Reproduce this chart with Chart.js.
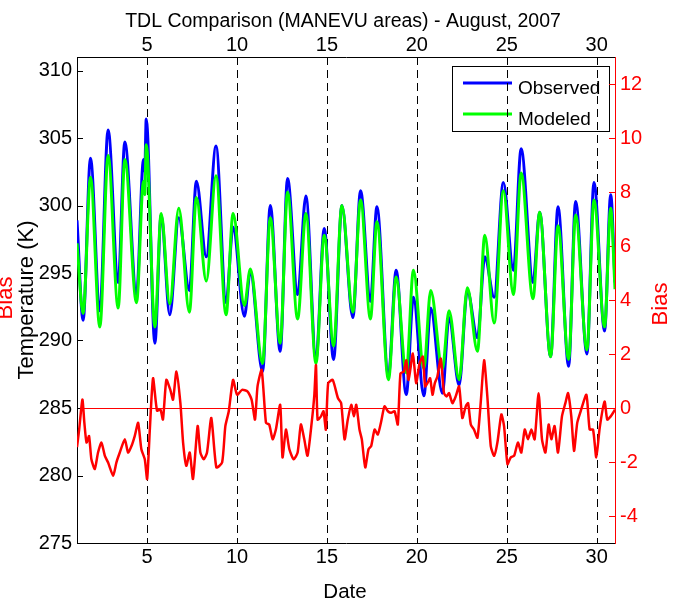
<!DOCTYPE html>
<html>
<head>
<meta charset="utf-8">
<script src="https://cdn.jsdelivr.net/npm/chart.js@4.4.0/dist/chart.umd.min.js"></script>
<style>
    html, body { margin: 0; padding: 0; background: #fff; }
    #grafico { display: block; }
</style>
</head>
<body>
<canvas id="grafico" width="673" height="606"></canvas>
<script>
// temperature series: times (day of August) of troughs / peaks
const tempDays = [1.10, 1.44, 1.85, 2.37, 2.83, 3.39, 3.76, 4.41, 4.80, 4.87, 4.95, 5.43, 5.78, 6.26, 6.76,
    7.35, 7.74, 8.29, 8.83, 9.39, 9.78, 10.41, 10.74, 11.42, 11.85, 12.40, 12.81, 13.37, 13.83, 14.39,
    14.85, 15.37, 15.83, 16.44, 16.87, 17.42, 17.78, 18.42, 18.85, 19.41, 19.81, 20.39, 20.77, 21.42,
    21.79, 22.35, 22.81, 23.37, 23.78, 24.30, 24.81, 25.37, 25.80, 26.46, 26.83, 27.44, 27.85, 28.44,
    28.83, 29.46, 29.85, 30.44, 30.78, 31.02];
const observed = [298.9, 291.5, 303.5, 292.2, 305.6, 294.3, 304.7, 293.4, 303.4, 302.5, 306.4, 289.8, 299.3, 291.9, 299.1,
    293.7, 301.8, 296.2, 304.4, 292.8, 298.4, 291.8, 295.1, 287.7, 300.0, 289.2, 302.0, 293.4, 300.7, 288.6,
    298.3, 288.6, 300.0, 291.7, 301.1, 292.9, 299.9, 287.4, 295.2, 286.0, 293.2, 285.9, 292.4, 286.1,
    291.7, 286.7, 293.7, 290.2, 296.2, 293.2, 301.7, 295.2, 304.2, 294.3, 299.5, 288.8, 299.9, 288.1,
    300.3, 289.0, 301.7, 290.7, 300.8, 294.3];
const modeled = [297.2, 292.0, 302.1, 291.0, 303.7, 292.4, 303.4, 292.8, 301.8, 300.8, 304.5, 291.0, 299.4, 292.7, 299.8,
    292.1, 300.6, 294.4, 302.2, 291.9, 299.4, 292.6, 295.3, 288.3, 299.1, 289.8, 301.0, 291.6, 299.4, 288.3,
    297.8, 289.6, 300.0, 292.1, 300.4, 291.6, 298.8, 287.1, 294.7, 287.6, 295.2, 287.9, 293.7, 287.9,
    292.2, 287.1, 293.9, 289.2, 297.8, 291.3, 301.1, 293.4, 302.4, 293.1, 299.5, 288.8, 298.5, 288.6,
    299.3, 289.3, 300.4, 291.0, 299.8, 293.8];

// bias series (right axis)
const biasDays = [1.10, 1.22, 1.40, 1.51, 1.63, 1.77, 1.90, 2.09, 2.27, 2.46, 2.65, 2.83, 3.11, 3.29, 3.48,
    3.76, 3.94, 4.13, 4.31, 4.50, 4.68, 4.87, 5.00, 5.15, 5.33, 5.55, 5.74, 5.88, 6.07, 6.29, 6.44, 6.63,
    6.85, 7.00, 7.18, 7.37, 7.55, 7.81, 7.96, 8.15, 8.33, 8.57, 8.85, 9.17, 9.35, 9.54, 9.78, 10.00,
    10.28, 10.59, 10.81, 11.00, 11.14, 11.37, 11.61, 11.79, 11.98, 12.16, 12.40, 12.53, 12.72, 12.91,
    13.15, 13.37, 13.55, 13.74, 13.92, 14.15, 14.30, 14.39, 14.48, 14.67, 14.81, 14.94, 15.07, 15.32,
    15.61, 15.79, 15.98, 16.16, 16.35, 16.50, 16.63, 16.81, 16.94, 17.13, 17.31, 17.46, 17.65, 17.83,
    18.02, 18.20, 18.39, 18.57, 18.76, 18.94, 19.09, 19.28, 19.41, 19.54, 19.78, 19.96, 20.15, 20.33,
    20.46, 20.59, 20.74, 20.87, 21.00, 21.14, 21.33, 21.51, 21.66, 21.79, 21.98, 22.16, 22.35, 22.53,
    22.72, 22.85, 23.00, 23.18, 23.37, 23.55, 23.74, 23.92, 24.11, 24.30, 24.48, 24.70, 24.85, 25.04,
    25.22, 25.41, 25.62, 25.81, 26.00, 26.18, 26.37, 26.55, 26.77, 26.96, 27.15, 27.33, 27.48, 27.66,
    27.85, 28.07, 28.26, 28.41, 28.59, 28.74, 28.92, 29.11, 29.43, 29.61, 29.80, 29.98, 30.17, 30.44,
    30.59, 30.78, 31.02];
const bias = [-1.45, -0.80, 0.31, -0.55, -1.28, -1.04, -1.90, -2.26, -1.65, -1.28, -1.77, -2.02, -2.51, -2.02, -1.65,
    -1.16, -1.65, -1.41, -1.04, -0.55, -1.53, -1.90, -2.63, -0.80, 1.10, -0.10, -0.06, -0.43, 1.04, 0.67, 0.31, 1.35,
    0.18, -1.28, -2.14, -1.65, -2.63, -0.67, -1.65, -1.90, -1.65, -0.37, -2.20, -2.02, -0.67, -0.12, 1.04, 0.49,
    0.67, 0.61, 0.31, -0.43, 0.80, 1.41, -0.55, -0.61, -1.16, -0.80, 0.12, -1.83, -0.80, -1.53,
    -1.90, -1.65, -0.61, -1.16, -1.77, -0.55, 0.49, 1.59, -0.43, -0.31, -0.12, -0.80, 0.92, 1.04,
    0.37, 0.18, -1.16, -0.43, 0.12, -0.31, 0.12, -0.80, -1.16, -2.20, -1.53, -1.41, -0.80, -0.98,
    -0.49, 0.06, -0.12, -0.18, -0.12, -0.61, 1.28, 1.35, 1.77, 1.04, 2.02, 0.92, 1.65, 1.90,
    0.80, 0.92, 1.10, 0.49, 0.92, 1.16, 1.83, 0.55, 0.43, 0.55, 0.18, 0.43, 0.80, -0.37,
    0.06, 0.18, -0.61, -0.80, -1.10, 0.18, 1.77, 0.43, -1.41, -1.77, -1.28, -0.24, -0.67, -2.08,
    -1.83, -1.77, -1.28, -1.65, -0.80, -1.16, -0.80, -1.16, 0.55, -1.16, -1.65, -0.61, -1.16, -0.67,
    -1.65, -0.31, 0.18, 0.55, -0.31, -1.59, -0.55, -0.12, 0.49, -0.80, -0.80, -1.83, -0.73, 0.24,
    -0.43, -0.31, -0.06];

// tick labels
const dayTicks = [5, 10, 15, 20, 25, 30];
const tempTicks = [275, 280, 285, 290, 295, 300, 305, 310];
const biasTicks = [-4, -2, 0, 2, 4, 6, 8, 10, 12];

const FONT = "'Liberation Sans', Arial, Helvetica, sans-serif";

function pontos(xs, ys) {
    return xs.map((x, i) => ({ x: x, y: ys[i] }));
}

// fixed-size boxes so the plot area matches the original figure
function fixWidth(w) { return function (scale) { scale.width = w; }; }
function fixHeight(h) { return function (scale) { scale.height = h; }; }
function setTicks(list) { return function (scale) { scale.ticks = list.map(v => ({ value: v })); }; }

// draws what MATLAB draws by hand: inward ticks, dashed day lines, legend, labels
const matlabLook = {
    id: 'matlabLook',
    beforeDatasetsDraw(chart) {
        const { ctx, chartArea: a, scales } = chart;
        ctx.save();

        // zero bias line
        const y0 = Math.round(scales.y2.getPixelForValue(0)) + 0.5;
        ctx.strokeStyle = '#ff0000';
        ctx.lineWidth = 1;
        ctx.beginPath();
        ctx.moveTo(a.left, y0);
        ctx.lineTo(a.right, y0);
        ctx.stroke();

        // legend box
        ctx.strokeStyle = '#000';
        ctx.lineWidth = 1;
        ctx.strokeRect(452.5, 66.5, 157, 65);
        ['Observed', 'Modeled'].forEach((name, i) => {
            const ds = chart.data.datasets.find(d => d.label === name);
            const ly = i === 0 ? 83 : 114;
            ctx.strokeStyle = ds.borderColor;
            ctx.lineWidth = 3;
            ctx.beginPath();
            ctx.moveTo(463, ly);
            ctx.lineTo(512, ly);
            ctx.stroke();
            ctx.fillStyle = '#000';
            ctx.font = '19px ' + FONT;
            ctx.textAlign = 'left';
            ctx.textBaseline = 'alphabetic';
            ctx.fillText(ds.label, 518, ly + 11);
        });

        // dashed vertical lines at the day ticks
        ctx.strokeStyle = '#000';
        ctx.lineWidth = 1;
        ctx.setLineDash([8, 5]);
        dayTicks.forEach(d => {
            const x = Math.round(scales.x.getPixelForValue(d)) + 0.5;
            ctx.beginPath();
            ctx.moveTo(x, a.top);
            ctx.lineTo(x, a.bottom);
            ctx.stroke();
        });
        ctx.setLineDash([]);

        // inward tick marks
        tempTicks.forEach(v => {
            const y = Math.round(scales.y.getPixelForValue(v)) + 0.5;
            ctx.beginPath();
            ctx.moveTo(a.left, y);
            ctx.lineTo(a.left + 6, y);
            ctx.stroke();
        });
        ctx.strokeStyle = '#ff0000';
        biasTicks.forEach(v => {
            const y = Math.round(scales.y2.getPixelForValue(v)) + 0.5;
            ctx.beginPath();
            ctx.moveTo(a.right - 6, y);
            ctx.lineTo(a.right, y);
            ctx.stroke();
        });
        ctx.restore();
    },
    afterDraw(chart) {
        const { ctx } = chart;
        ctx.save();
        ctx.fillStyle = '#000';
        ctx.textAlign = 'center';
        ctx.textBaseline = 'alphabetic';

        ctx.font = '19.5px ' + FONT;
        ctx.fillText('TDL Comparison (MANEVU areas) - August, 2007', 343, 27);

        ctx.font = '20.5px ' + FONT;
        ctx.fillText('Date', 345, 598);

        // rotated axis labels
        ctx.font = '22px ' + FONT;
        ctx.save();
        ctx.translate(33, 300);
        ctx.rotate(-Math.PI / 2);
        ctx.fillText('Temperature (K)', 0, 0);
        ctx.restore();

        ctx.fillStyle = '#ff0000';
        ctx.save();
        ctx.translate(12, 298);
        ctx.rotate(-Math.PI / 2);
        ctx.fillText('Bias', 0, 0);
        ctx.restore();

        ctx.save();
        ctx.translate(667, 304);
        ctx.rotate(-Math.PI / 2);
        ctx.fillText('Bias', 0, 0);
        ctx.restore();

        ctx.restore();
    }
};

Chart.defaults.font.family = FONT;
Chart.defaults.color = '#000';

const noGrid = { display: false, drawTicks: false, tickLength: 0 };

const ctx = document.getElementById('grafico').getContext('2d');
window.grafico = new Chart(ctx, {
    type: 'line',
    data: {
        datasets: [
            {
                label: 'Observed',
                data: pontos(tempDays, observed),
                borderColor: '#0000ff',
                borderWidth: 3,
                pointRadius: 0,
                cubicInterpolationMode: 'monotone',
                order: 2,
                yAxisID: 'y',
                xAxisID: 'x'
            },
            {
                label: 'Modeled',
                data: pontos(tempDays, modeled),
                borderColor: '#00ff00',
                borderWidth: 3,
                pointRadius: 0,
                cubicInterpolationMode: 'monotone',
                order: 1,
                yAxisID: 'y',
                xAxisID: 'x'
            },
            {
                label: 'Bias',
                data: pontos(biasDays, bias),
                borderColor: '#ff0000',
                borderWidth: 2.5,
                pointRadius: 0,
                tension: 0.2,
                order: 0,
                yAxisID: 'y2',
                xAxisID: 'x'
            }
        ]
    },
    options: {
        responsive: false,
        animation: false,
        devicePixelRatio: 1,
        layout: { padding: 0 },
        plugins: {
            legend: { display: false },
            tooltip: { enabled: false },
            title: { display: false }
        },
        scales: {
            x: {
                type: 'linear',
                position: 'bottom',
                min: 1.1,
                max: 31.02,
                afterBuildTicks: setTicks(dayTicks),
                afterFit: fixHeight(63),
                grid: noGrid,
                border: { display: true, color: '#000', width: 1 },
                ticks: { font: { size: 20 }, color: '#000', padding: 2, maxRotation: 0, autoSkip: false }
            },
            x2: {
                type: 'linear',
                position: 'top',
                min: 1.1,
                max: 31.02,
                afterBuildTicks: setTicks(dayTicks),
                afterFit: fixHeight(57),
                grid: noGrid,
                border: { display: true, color: '#000', width: 1 },
                ticks: { font: { size: 20 }, color: '#000', padding: 0, maxRotation: 0, autoSkip: false }
            },
            y: {
                type: 'linear',
                position: 'left',
                min: 275,
                max: 311,
                afterBuildTicks: setTicks(tempTicks),
                afterFit: fixWidth(77),
                grid: noGrid,
                border: { display: true, color: '#000', width: 1 },
                ticks: { font: { size: 20 }, color: '#000', padding: 5 }
            },
            y2: {
                type: 'linear',
                position: 'right',
                min: -5,
                max: 13,
                afterBuildTicks: setTicks(biasTicks),
                afterFit: fixWidth(58),
                grid: noGrid,
                border: { display: true, color: '#ff0000', width: 1 },
                ticks: { font: { size: 20 }, color: '#ff0000', padding: 5 }
            }
        }
    },
    plugins: [matlabLook]
});
</script>
</body>
</html>
